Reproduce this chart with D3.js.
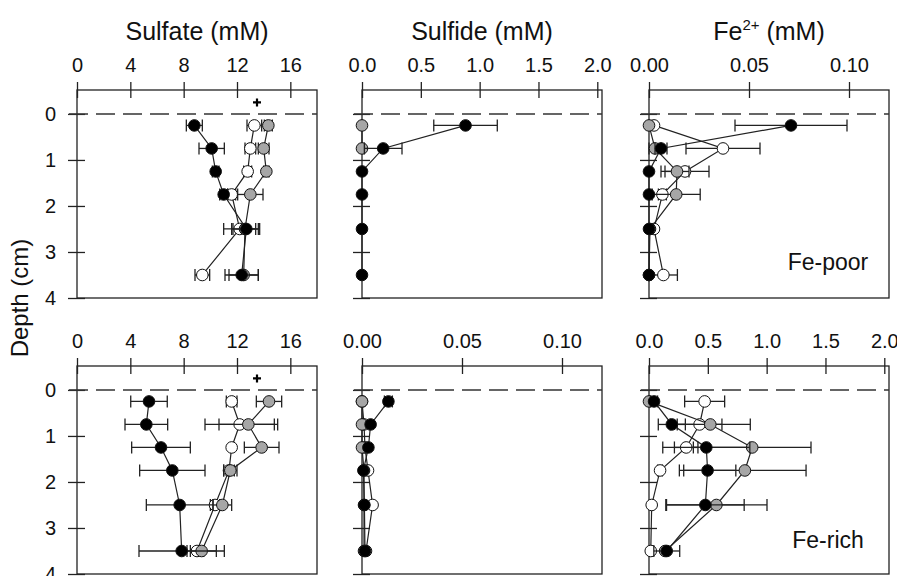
<!DOCTYPE html>
<html>
<head>
<meta charset="utf-8">
<script src="https://cdn.jsdelivr.net/npm/d3@7"></script>
<style>
  body { margin: 0; background: #fff; }
  svg { display: block; font-family: "Liberation Sans", Arial, sans-serif; }
</style>
</head>
<body>
<script>
"use strict";

// sampling depths (cm), shared by every profile
const depths = [0.25, 0.75, 1.25, 1.75, 2.5, 3.5];
const depthTicks = [0, 1, 2, 3, 4];

// Fe-poor, sulfate
const so4PoorBlack = [8.8, 10.1, 10.4, 11.0, 12.7, 12.35];
const so4PoorBlackSd = [0.6, 0.95, 0.25, 0.3, 1.0, 1.25];
const so4PoorWhite = [13.3, 13.0, 12.8, 11.6, 12.2, 9.4];
const so4PoorWhiteSd = [0.55, 0.4, 0.3, 0.3, 1.2, 0.55];
const so4PoorGray = [14.35, 14.0, 14.2, 13.0, 12.6, 12.5];
const so4PoorGraySd = [0.3, 0.4, 0.2, 0.95, 1.0, 1.1];

// Fe-poor, sulfide
const h2sPoorBlack = [0.88, 0.18, 0, 0, 0, 0];
const h2sPoorBlackSd = [0.27, 0.16, 0, 0, 0, 0];
const h2sPoorWhite = [null, null, null, null, null, null];
const h2sPoorWhiteSd = [0, 0, 0, 0, 0, 0];
const h2sPoorGray = [0, 0, null, null, null, null];
const h2sPoorGraySd = [0, 0, 0, 0, 0, 0];

// Fe-poor, Fe2+
const fePoorBlack = [0.071, 0.006, 0, 0, 0, 0];
const fePoorBlackSd = [0.028, 0.003, 0, 0, 0, 0];
const fePoorWhite = [0.0025, 0.037, 0.018, 0.0067, 0.0025, 0.0072];
const fePoorWhiteSd = [0, 0.0185, 0.012, 0.002, 0, 0.007];
const fePoorGray = [0, 0.003, 0.014, 0.0136, 0.0005, 0];
const fePoorGraySd = [0, 0.003, 0.006, 0.012, 0, 0];

// Fe-rich, sulfate
const so4RichBlack = [5.4, 5.2, 6.3, 7.15, 7.7, 7.85];
const so4RichBlackSd = [1.37, 1.6, 2.2, 2.45, 2.5, 3.2];
const so4RichWhite = [11.6, 12.2, 11.6, 11.4, 10.35, 9.0];
const so4RichWhiteSd = [0.4, 2.6, 0, 0.4, 0.35, 0.5];
const so4RichGray = [14.4, 12.85, 13.85, 11.5, 10.9, 9.35];
const so4RichGraySd = [0.95, 2.2, 1.3, 0.5, 0.7, 1.1];

// Fe-rich, sulfide
const h2sRichBlack = [0.0132, 0.0043, 0.0032, 0.0007, 0.0012, 0.0015];
const h2sRichBlackSd = [0.002, 0, 0, 0, 0, 0];
const h2sRichWhite = [0, 0.001, 0.0015, 0.003, 0.0053, 0.002];
const h2sRichWhiteSd = [0, 0, 0, 0, 0, 0];
const h2sRichGray = [0, 0, 0, 0.001, 0.001, 0.001];
const h2sRichGraySd = [0, 0, 0, 0, 0, 0];

// Fe-rich, Fe2+
const feRichBlack = [0.043, 0.194, 0.487, 0.498, 0.479, 0.151];
const feRichBlackSd = [0.03, 0.115, 0.37, 0.24, 0.33, 0.11];
const feRichWhite = [0.473, 0.43, 0.316, 0.094, 0.023, 0.015];
const feRichWhiteSd = [0.17, 0.19, 0.1, 0.02, 0, 0];
const feRichGray = [0, 0.521, 0.877, 0.815, 0.573, 0.137];
const feRichGraySd = [0, 0.34, 0.5, 0.52, 0.43, 0];

const titles = ["Sulfate (mM)", "Sulfide (mM)", "Fe"];
const rowLabels = ["Fe-poor", "Fe-rich"];

// reference (+) above the sulfate profiles: [value, depth]
const seawaterSulfate = [13.5, -0.25];

const W = 897, H = 576;
const colX = [77, 362, 649];
const rowY = [90, 366];
const pw = 240, ph = 208;

const fills = { white: "#fff", gray: "#a6a6a6", black: "#000" };

// panel definitions (row, col, x max, ticks, series)
const panels = [
  { row: 0, col: 0, max: 18, ticks: [0, 4, 8, 12, 16], fmt: d3.format("d"),
    s: [["white", so4PoorWhite, so4PoorWhiteSd], ["gray", so4PoorGray, so4PoorGraySd], ["black", so4PoorBlack, so4PoorBlackSd]] },
  { row: 0, col: 1, max: 2.04, ticks: [0, 0.5, 1, 1.5, 2], fmt: d3.format(".1f"),
    s: [["white", h2sPoorWhite, h2sPoorWhiteSd], ["gray", h2sPoorGray, h2sPoorGraySd], ["black", h2sPoorBlack, h2sPoorBlackSd]] },
  { row: 0, col: 2, max: 0.12, ticks: [0, 0.05, 0.1], fmt: d3.format(".2f"),
    s: [["white", fePoorWhite, fePoorWhiteSd], ["gray", fePoorGray, fePoorGraySd], ["black", fePoorBlack, fePoorBlackSd]] },
  { row: 1, col: 0, max: 18, ticks: [0, 4, 8, 12, 16], fmt: d3.format("d"),
    s: [["white", so4RichWhite, so4RichWhiteSd], ["gray", so4RichGray, so4RichGraySd], ["black", so4RichBlack, so4RichBlackSd]] },
  { row: 1, col: 1, max: 0.12, ticks: [0, 0.05, 0.1], fmt: d3.format(".2f"),
    s: [["white", h2sRichWhite, h2sRichWhiteSd], ["gray", h2sRichGray, h2sRichGraySd], ["black", h2sRichBlack, h2sRichBlackSd]] },
  { row: 1, col: 2, max: 2.04, ticks: [0, 0.5, 1, 1.5, 2], fmt: d3.format(".1f"),
    s: [["white", feRichWhite, feRichWhiteSd], ["gray", feRichGray, feRichGraySd], ["black", feRichBlack, feRichBlackSd]] }
];

const svg = d3.select("body").append("svg")
  .attr("width", W)
  .attr("height", H);

// column titles
titles.forEach(function (t, i) {
  let txt = svg.append("text")
    .attr("x", colX[i] + pw / 2)
    .attr("y", 40)
    .attr("text-anchor", "middle")
    .style("font-size", "25px")
    .attr("fill", "#111")
    .text(t);
  if (t === "Fe") {
    txt.append("tspan").attr("dy", -10).style("font-size", "15px").text("2+");
    txt.append("tspan").attr("dy", 10).text(" (mM)");
  }
});

// y label
svg.append("text")
  .attr("transform", "translate(28,298) rotate(-90)")
  .attr("text-anchor", "middle")
  .style("font-size", "24px")
  .attr("fill", "#111")
  .text("Depth (cm)");

panels.forEach(function (p) {
  let x0 = colX[p.col], y0 = rowY[p.row];
  let x = d3.scaleLinear().domain([0, p.max]).range([x0, x0 + pw]);
  let y = d3.scaleLinear().domain([-0.52, 4]).range([y0, y0 + ph]);
  let g = svg.append("g");

  // frame
  g.append("rect")
    .attr("x", x0).attr("y", y0)
    .attr("width", pw).attr("height", ph)
    .attr("fill", "none").attr("stroke", "#222").attr("stroke-width", 1.3);

  // top axis: ticks cross the frame line
  let xa = g.append("g").attr("transform", "translate(0," + y0 + ")")
    .call(d3.axisTop(x).tickValues(p.ticks).tickFormat(p.fmt).tickSizeInner(8).tickSizeOuter(0).tickPadding(10));
  xa.select(".domain").remove();
  xa.selectAll(".tick line").attr("y2", -8).attr("y1", 8).attr("stroke", "#222").attr("stroke-width", 1.3);
  xa.selectAll(".tick text").style("font-size", "20px").attr("fill", "#111");

  // left axis
  let ya = g.append("g").attr("transform", "translate(" + x0 + ",0)")
    .call(d3.axisLeft(y).tickValues(depthTicks).tickFormat(d3.format("d")).tickSizeInner(9).tickSizeOuter(0).tickPadding(12));
  ya.select(".domain").remove();
  ya.selectAll(".tick line").attr("x2", -9).attr("x1", 8).attr("stroke", "#222").attr("stroke-width", 1.3);
  ya.selectAll(".tick text").style("font-size", "20px").attr("fill", "#111");
  if (p.col > 0) ya.selectAll(".tick text").remove();

  // sediment surface
  g.append("line")
    .attr("x1", x0 - 8).attr("x2", x0 + pw)
    .attr("y1", y(0)).attr("y2", y(0))
    .attr("stroke", "#333").attr("stroke-width", 1.6)
    .attr("stroke-dasharray", "19,8");

  if (p.col === 0) {
    let px = x(seawaterSulfate[0]), py = y(seawaterSulfate[1]);
    g.append("path")
      .attr("d", "M" + (px - 4) + "," + py + "H" + (px + 4) + "M" + px + "," + (py - 4) + "V" + (py + 4))
      .attr("stroke", "#000").attr("stroke-width", 2.2);
  }

  p.s.forEach(function (ser) {
    let pts = depths.map(function (d, i) {
      return { d: d, v: ser[1][i], e: ser[2][i] || 0 };
    }).filter(function (o) { return o.v !== null; });

    let line = d3.line()
      .x(function (o) { return x(o.v); })
      .y(function (o) { return y(o.d); });

    g.append("path")
      .datum(pts)
      .attr("d", line)
      .attr("fill", "none")
      .attr("stroke", "#222")
      .attr("stroke-width", 1.2);

    let eb = g.selectAll(null)
      .data(pts.filter(function (o) { return o.e > 0; }))
      .enter().append("g");
    eb.append("line")
      .attr("x1", function (o) { return x(Math.max(0, o.v - o.e)); })
      .attr("x2", function (o) { return x(o.v + o.e); })
      .attr("y1", function (o) { return y(o.d); })
      .attr("y2", function (o) { return y(o.d); })
      .attr("stroke", "#222").attr("stroke-width", 1.3);
    [-1, 1].forEach(function (sgn) {
      eb.append("line")
        .attr("x1", function (o) { return x(Math.max(0, o.v + sgn * o.e)); })
        .attr("x2", function (o) { return x(Math.max(0, o.v + sgn * o.e)); })
        .attr("y1", function (o) { return y(o.d) - 6; })
        .attr("y2", function (o) { return y(o.d) + 6; })
        .attr("stroke", "#222").attr("stroke-width", 1.3);
    });

    g.selectAll(null)
      .data(pts)
      .enter().append("circle")
      .attr("cx", function (o) { return x(o.v); })
      .attr("cy", function (o) { return y(o.d); })
      .attr("r", 5.8)
      .attr("fill", fills[ser[0]])
      .attr("stroke", "#111")
      .attr("stroke-width", 1);
  });

  if (p.col === 2) {
    svg.append("text")
      .attr("x", 828)
      .attr("y", p.row === 0 ? 270 : 548)
      .attr("text-anchor", "middle")
      .style("font-size", "23px")
      .attr("fill", "#111")
      .text(rowLabels[p.row]);
  }
});
</script>
</body>
</html>
